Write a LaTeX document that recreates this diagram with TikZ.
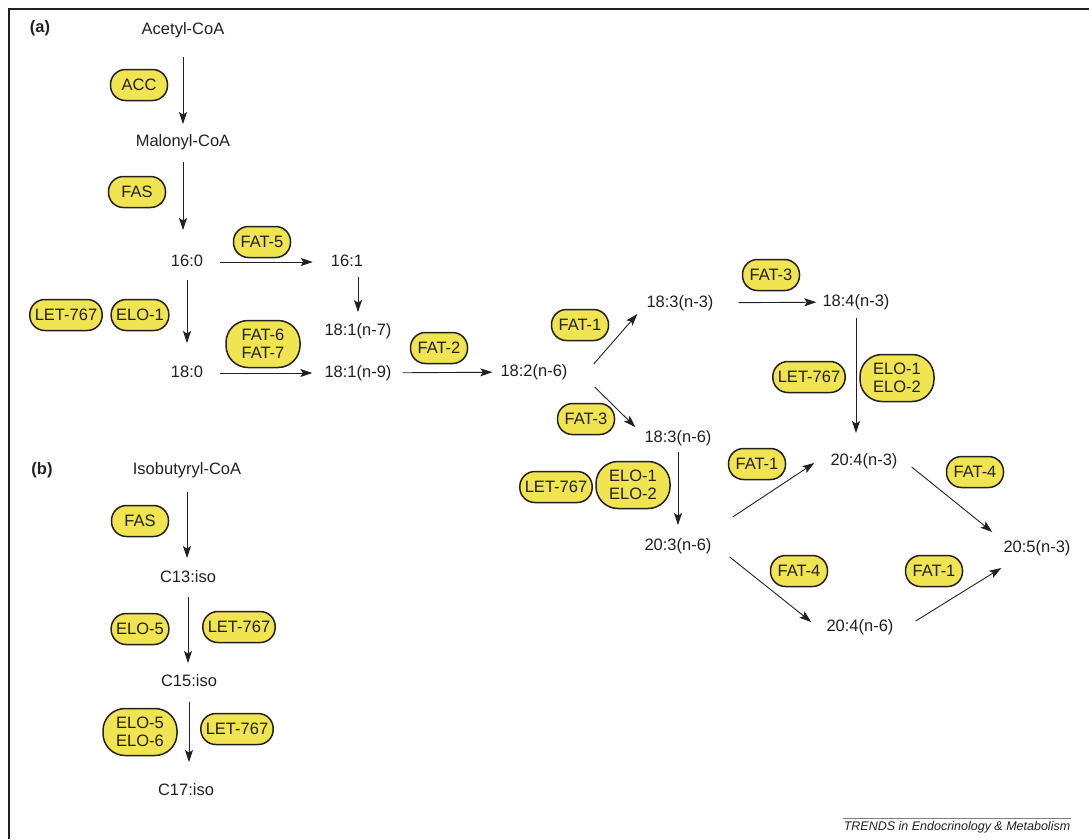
\documentclass[tikz,border=0pt]{standalone}
\usepackage{fontspec}
\setmainfont{Liberation Sans}
\usetikzlibrary{arrows.meta}

\definecolor{enzyellow}{RGB}{240,228,80}
\definecolor{inkgray}{RGB}{35,31,32}

\tikzset{
  met/.style={inner sep=0pt, text height=12pt, text depth=3.5pt, text=inkgray,
    font=\fontsize{16.5}{18}\selectfont},
  enz/.style={draw=inkgray, fill=enzyellow, line width=1.5pt, rounded corners=15pt,
    minimum height=31pt, minimum width=57pt, inner xsep=5pt, inner ysep=0pt,
    align=center, text=inkgray, font=\fontsize{16.5}{18}\selectfont},
  enztwo/.style={enz, rounded corners=22pt, minimum width=74pt, minimum height=47pt},
  arr/.style={-{Stealth[length=12pt,width=8pt,inset=2.5pt]}, line width=0.9pt, draw=inkgray},
  panel/.style={text=inkgray, font=\bfseries\fontsize{16.5}{18}\selectfont}
}

\begin{document}
\begin{tikzpicture}[x=1pt,y=-1pt]
    %%Background
    \useasboundingbox (0,0) rectangle (1089,839);
    \draw[line width=1.6pt, inkgray] (9,839) -- (9,9) -- (1089,9);

    %% Panel (a): metabolites
    \node[panel] (pa) at (40,28) {(a)};
    \node[met] (acetyl) at (183,30) {Acetyl-CoA};
    \node[met] (malonyl) at (183,142) {Malonyl-CoA};
    \node[met] (c160) at (187,262) {16:0};
    \node[met] (c161) at (347,262) {16:1};
    \node[met] (c181n7) at (358,331) {18:1(n-7)};
    \node[met] (c180) at (187,373) {18:0};
    \node[met] (c181n9) at (358,373) {18:1(n-9)};
    \node[met] (c182) at (534,372) {18:2(n-6)};
    \node[met] (c183n3) at (680,303) {18:3(n-3)};
    \node[met] (c184n3) at (856,302) {18:4(n-3)};
    \node[met] (c183n6) at (678,438) {18:3(n-6)};
    \node[met] (c204n3) at (864,461) {20:4(n-3)};
    \node[met] (c203n6) at (678,546) {20:3(n-6)};
    \node[met] (c205) at (1037,548) {20:5(n-3)};
    \node[met] (c204n6) at (860,627) {20:4(n-6)};

    %% Panel (a): enzymes
    \node[enz] (acc) at (139,85) {ACC};
    \node[enz] (fasa) at (137,192) {FAS};
    \node[enz] (fat5) at (262,242) {FAT-5};
    \node[enz] (leta) at (66,315) {LET-767};
    \node[enz] (eloa) at (140,315) {ELO-1};
    \node[enztwo] (fat67) at (263,344) {FAT-6\\FAT-7};
    \node[enz] (fat2) at (439,348) {FAT-2};
    \node[enz] (fat1a) at (580,325) {FAT-1};
    \node[enz] (fat3a) at (771,275) {FAT-3};
    \node[enz] (fat3b) at (586,419) {FAT-3};
    \node[enz] (letb) at (809,377) {LET-767};
    \node[enztwo] (elob) at (897,378) {ELO-1\\ELO-2};
    \node[enz] (letc) at (556,487) {LET-767};
    \node[enztwo] (eloc) at (633,485) {ELO-1\\ELO-2};
    \node[enz] (fat1b) at (757,464) {FAT-1};
    \node[enz] (fat4a) at (975,472) {FAT-4};
    \node[enz] (fat4b) at (799,571) {FAT-4};
    \node[enz] (fat1c) at (934,571) {FAT-1};

    %% Panel (a): reactions
    \draw[arr, shorten <=19pt, shorten >=10pt] (acetyl) -- (malonyl);
    \draw[arr, shorten <=12pt, shorten >=24pt] (malonyl) -- (malonyl |- c160.north);
    \draw[arr, shorten <=10pt, shorten >=22pt] (c160) -- (c180);
    \draw[arr, shorten <=17pt, shorten >=18pt] (c160) -- (c161);
    \draw[arr, shorten <=7pt, shorten >=11pt] (c181n7 |- c161.south) -- (c181n7);
    \draw[arr, shorten <=17pt, shorten >=12pt] (c180) -- (c181n9);
    \draw[arr, shorten <=11pt, shorten >=8pt] (c181n9) -- (c182);
    \draw[arr] ([xshift=26pt]c182.north east) -- ([xshift=-9pt,yshift=-3pt]c183n3.south west);
    \draw[arr] ([xshift=27pt,yshift=-7pt]c182.south east) -- ([xshift=-9pt,yshift=3pt]c183n6.north west);
    \draw[arr, shorten <=25pt, shorten >=6pt] (c183n3) -- (c184n3);
    \draw[arr, shorten <=8pt, shorten >=20pt] (c184n3) -- (c184n3 |- c204n3.north);
    \draw[arr, shorten <=6pt, shorten >=13pt] (c183n6) -- (c203n6);
    \draw[arr] ([xshift=21pt,yshift=21pt]c203n6.north east) -- ([xshift=-16pt,yshift=6pt]c204n3.south west);
    \draw[arr] ([xshift=18pt,yshift=-3pt]c203n6.south east) -- ([xshift=-15pt,yshift=-3pt]c204n6.north west);
    \draw[arr] ([xshift=14pt,yshift=-6pt]c204n3.east) -- ([xshift=-11pt,yshift=8pt]c205.north west);
    \draw[arr] ([xshift=22pt,yshift=6pt]c204n6.east) -- ([xshift=-2pt,yshift=-12pt]c205.south west);

    %% Panel (b)
    \node[panel] (pb) at (42,470) {(b)};
    \node[met] (isobut) at (187,470) {Isobutyryl-CoA};
    \node[met] (c13) at (188,578) {C13:iso};
    \node[met] (c15) at (189,682) {C15:iso};
    \node[met] (c17) at (186,791) {C17:iso};

    \node[enz] (fasb) at (140,521) {FAS};
    \node[enz] (eloe) at (140,629) {ELO-5};
    \node[enz] (letd) at (239,627) {LET-767};
    \node[enztwo] (elof) at (140,732) {ELO-5\\ELO-6};
    \node[enz] (lete) at (237,729) {LET-767};

    \draw[arr, shorten <=14pt, shorten >=12pt] (isobut) -- (isobut |- c13.north);
    \draw[arr, shorten <=11pt, shorten >=11pt] (c13) -- (c13 |- c15.north);
    \draw[arr, shorten <=12pt, shorten >=21pt] (c15) -- (c15 |- c17.north);

    %% Footer
    \node[inner sep=1pt, text=inkgray, font=\itshape\fontsize{12.5}{14}\selectfont] (trends) at (957,827)
      {TRENDS in Endocrinology \& Metabolism};
    \draw[line width=0.7pt, gray] ([yshift=2pt]trends.north west) -- ([yshift=2pt]trends.north east);

\end{tikzpicture}
\end{document}
